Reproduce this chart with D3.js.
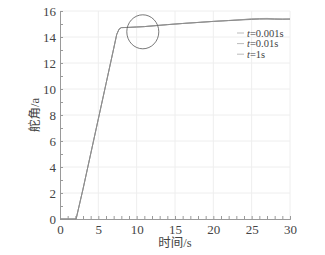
<!DOCTYPE html>
<html><head><meta charset="utf-8">
<script src="https://cdn.jsdelivr.net/npm/d3@7"></script>
<style>body{margin:0;background:#fff}svg{display:block}</style>
</head><body><svg id="c" width="325" height="255"></svg>
<script>
const time   = [0, 2.1, 3, 4, 5, 6, 7, 7.4, 7.7, 8.0, 9, 10, 11, 12, 14, 16, 18, 20, 22, 24, 25, 26, 27, 28, 29, 30];
const s0001  = [0, 0, 2.3, 5.0, 7.7, 10.4, 13.1, 14.2, 14.6, 14.72, 14.74, 14.77, 14.8, 14.85, 14.95, 15.04, 15.12, 15.2, 15.27, 15.35, 15.4, 15.42, 15.43, 15.4, 15.38, 15.38];
const s001   = [0, 0, 2.3, 5.0, 7.7, 10.4, 13.1, 14.2, 14.6, 14.72, 14.74, 14.77, 14.8, 14.85, 14.95, 15.04, 15.12, 15.2, 15.27, 15.34, 15.38, 15.4, 15.4, 15.38, 15.37, 15.38];
const s1     = [0, 0, 2.3, 5.0, 7.7, 10.4, 13.1, 14.2, 14.6, 14.72, 14.74, 14.77, 14.8, 14.85, 14.95, 15.04, 15.12, 15.2, 15.26, 15.32, 15.35, 15.37, 15.38, 15.37, 15.37, 15.38];
const seriesNames = ["=0.001s", "=0.01s", "=1s"];
const xTicks = [0, 5, 10, 15, 20, 25, 30];
const yTicks = [0, 2, 4, 6, 8, 10, 12, 14, 16];
const circleCenter = [10.8, 14.4];

const svg = d3.select("#c");
const x = d3.scaleLinear().domain([0, 30]).range([60, 290]);
const y = d3.scaleLinear().domain([0, 16]).range([219, 11]);
const font = "'Liberation Serif','Times New Roman','Noto Sans CJK SC',serif";

// grid
svg.append("g").selectAll("line").data(xTicks.slice(1)).join("line")
  .attr("x1", d => x(d)).attr("x2", d => x(d)).attr("y1", y(0)).attr("y2", y(16))
  .attr("stroke", "#eeeeee").attr("stroke-width", 1);
svg.append("g").selectAll("line").data(yTicks.slice(1)).join("line")
  .attr("x1", x(0)).attr("x2", x(30)).attr("y1", d => y(d)).attr("y2", d => y(d))
  .attr("stroke", "#eeeeee").attr("stroke-width", 1);

// axes
const xAxis = svg.append("g").attr("transform", `translate(0,${y(0)})`)
  .call(d3.axisBottom(x).tickValues(xTicks).tickSize(0).tickPadding(6));
const xMinor = svg.append("g").attr("transform", `translate(0,${y(0)})`)
  .call(d3.axisBottom(x).tickValues(d3.range(0, 31, 1)).tickSize(-3).tickFormat(""));
const yAxis = svg.append("g").attr("transform", `translate(${x(0)},0)`)
  .call(d3.axisLeft(y).tickValues(yTicks).tickSize(0).tickPadding(4));
const yMinor = svg.append("g").attr("transform", `translate(${x(0)},0)`)
  .call(d3.axisLeft(y).tickValues(d3.range(0, 17, 1)).tickSize(-3).tickFormat(""));
[xAxis, xMinor, yAxis, yMinor].forEach(g => {
  g.selectAll("path,line").attr("stroke", "#9a9a9a");
  g.selectAll("text").attr("font-family", font).attr("font-size", 13).attr("fill", "#444");
});

// lines
const line = d3.line().x((d, i) => x(time[i])).y(d => y(d));
const seriesData = [s0001, s001, s1];
const colors = ["#9a9a9a", "#a5a5a5", "#888"];
svg.append("g").selectAll("path").data(seriesData).join("path")
  .attr("d", d => line(d)).attr("fill", "none")
  .attr("stroke", (d, i) => colors[i]).attr("stroke-width", 0.9);

// circle annotation
svg.append("ellipse")
  .attr("cx", x(circleCenter[0])).attr("cy", y(circleCenter[1]))
  .attr("rx", 16).attr("ry", 17)
  .attr("fill", "none").attr("stroke", "#555").attr("stroke-width", 0.8);

// legend
const lg = svg.append("g");
seriesNames.forEach((n, i) => {
  const yy = 33 + i * 10.6;
  lg.append("line").attr("x1", 237).attr("x2", 244).attr("y1", yy).attr("y2", yy)
    .attr("stroke", "#bbb").attr("stroke-width", 1);
  const t = lg.append("text").attr("x", 247).attr("y", yy + 3.5)
    .attr("font-family", font).attr("font-size", 10.5).attr("fill", "#444");
  t.append("tspan").attr("font-style", "italic").text("t");
  t.append("tspan").text(n);
});

// axis titles
svg.append("text").attr("x", 175).attr("y", 247).attr("text-anchor", "middle")
  .attr("font-family", font).attr("font-size", 12.5).attr("fill", "#444").text("时间/s");
svg.append("text").attr("transform", "translate(39,115) rotate(-90)").attr("text-anchor", "middle")
  .attr("font-family", font).attr("font-size", 12.5).attr("fill", "#444").text("舵角/a");
</script></body></html>
